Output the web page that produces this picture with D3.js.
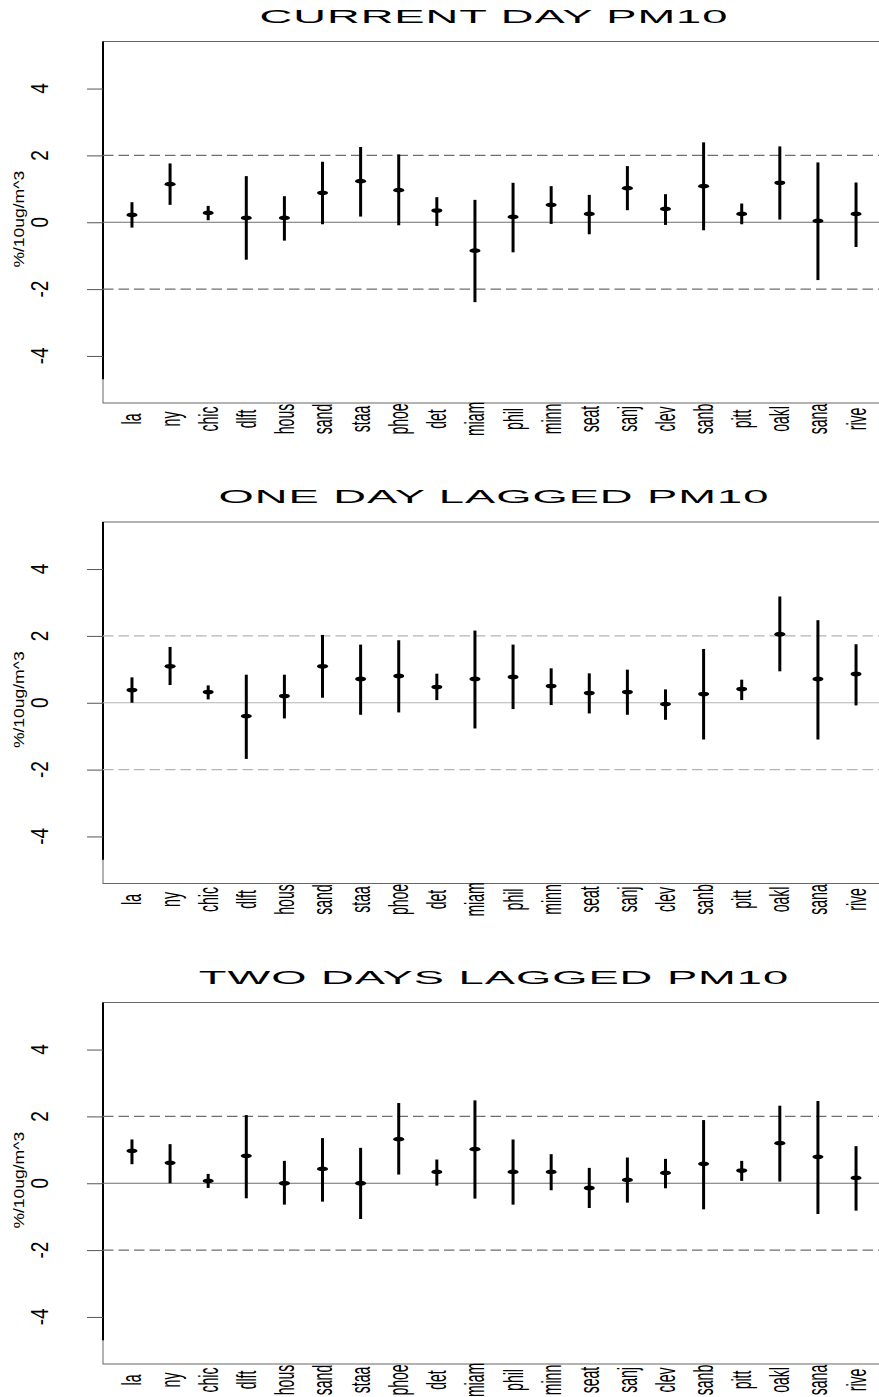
<!DOCTYPE html>
<html>
<head>
<meta charset="utf-8">
<script src="https://cdn.jsdelivr.net/npm/d3@7"></script>
<style>
  html, body { margin: 0; padding: 0; background: #fff; }
  svg { display: block; }
  text { font-family: "Liberation Sans", Arial, Helvetica, sans-serif; fill: #000; }
</style>
</head>
<body>
<svg id="chart" width="879" height="1397"></svg>
<script>
// City codes along the x axis
const cities = ["la","ny","chic","dlft","hous","sand","staa","phoe","det","miam",
                "phil","minn","seat","sanj","clev","sanb","pitt","oakl","sana","rive"];

// Panel titles
const titles = ["CURRENT DAY PM10", "ONE DAY LAGGED PM10", "TWO DAYS LAGGED PM10"];

// Y tick values and the reference lines
const yTicks = [-4, -2, 0, 2, 4];
const refDashed = [-2, 2];
const yLabel = "%/10ug/m^3";

// Estimates (% change per 10 ug/m^3) with lower / upper limits
const lag0Est = [0.22, 1.14, 0.28, 0.13, 0.13, 0.88, 1.23, 0.96, 0.35, -0.85,
                 0.16, 0.52, 0.25, 1.02, 0.40, 1.08, 0.25, 1.18, 0.04, 0.25];
const lag0Lo  = [-0.16, 0.52, 0.06, -1.12, -0.55, -0.06, 0.17, -0.09, -0.11, -2.39,
                 -0.90, -0.05, -0.36, 0.36, -0.08, -0.24, -0.06, 0.08, -1.73, -0.74];
const lag0Hi  = [0.60, 1.76, 0.49, 1.38, 0.78, 1.81, 2.25, 2.03, 0.75, 0.67,
                 1.18, 1.08, 0.82, 1.68, 0.84, 2.39, 0.56, 2.27, 1.79, 1.19];

const lag1Est = [0.38, 1.09, 0.32, -0.40, 0.20, 1.09, 0.71, 0.80, 0.47, 0.71,
                 0.77, 0.50, 0.29, 0.32, -0.04, 0.26, 0.41, 2.05, 0.71, 0.86];
const lag1Lo  = [0.00, 0.53, 0.10, -1.68, -0.47, 0.15, -0.36, -0.29, 0.08, -0.77,
                 -0.19, -0.07, -0.32, -0.36, -0.51, -1.10, 0.08, 0.94, -1.10, -0.08];
const lag1Hi  = [0.76, 1.67, 0.52, 0.84, 0.84, 2.03, 1.74, 1.87, 0.87, 2.16,
                 1.74, 1.03, 0.88, 0.99, 0.40, 1.61, 0.69, 3.18, 2.47, 1.75];

const lag2Est = [0.97, 0.61, 0.07, 0.82, 0.00, 0.43, 0.00, 1.32, 0.34, 1.02,
                 0.34, 0.34, -0.14, 0.10, 0.31, 0.58, 0.38, 1.20, 0.79, 0.16];
const lag2Lo  = [0.57, 0.00, -0.14, -0.45, -0.64, -0.55, -1.07, 0.26, -0.07, -0.46,
                 -0.64, -0.21, -0.74, -0.58, -0.15, -0.78, 0.07, 0.05, -0.92, -0.82];
const lag2Hi  = [1.31, 1.17, 0.28, 2.04, 0.67, 1.35, 1.06, 2.40, 0.71, 2.48,
                 1.31, 0.87, 0.46, 0.77, 0.73, 1.89, 0.67, 2.32, 2.46, 1.11];

const panels = [
  { title: titles[0], est: lag0Est, lo: lag0Lo, hi: lag0Hi, guide: "#6e6e6e" },
  { title: titles[1], est: lag1Est, lo: lag1Lo, hi: lag1Hi, guide: "#b4b4b4" },
  { title: titles[2], est: lag2Est, lo: lag2Lo, hi: lag2Hi, guide: "#6e6e6e" }
];

const svg = d3.select("#chart");
svg.append("rect").attr("width", 879).attr("height", 1397).attr("fill", "#fff");

// Plot frame geometry (shared by all three panels)
const plotLeft = 103, plotRight = 885;
const plotTop = 41.5, plotBottom = 403;
const panelStep = 480.5;
const yLim = 5.2 * 1.04;        // limits padded the way base graphics does
const axisLineLow = -4.7;

const x = d3.scaleLinear()
  .domain([1 - 0.04 * 19, 20 + 0.04 * 19])
  .range([plotLeft, plotRight]);

panels.forEach((p, i) => {
  const off = i * panelStep;
  const g = svg.append("g").attr("transform", `translate(0,${off})`);

  const y = d3.scaleLinear().domain([-yLim, yLim]).range([plotBottom, plotTop]);

  // title
  g.append("text")
    .attr("transform", `translate(${(plotLeft + plotRight) / 2},22.7) scale(2.45,1)`)
    .attr("text-anchor", "middle")
    .style("font-size", "18.5px")
    .style("letter-spacing", "0.4px")
    .text(p.title);

  // frame
  g.append("rect")
    .attr("x", plotLeft).attr("y", plotTop)
    .attr("width", plotRight - plotLeft).attr("height", plotBottom - plotTop)
    .attr("fill", "none").attr("stroke", "#666").attr("stroke-width", 1);

  // left axis line
  g.append("line")
    .attr("x1", plotLeft).attr("x2", plotLeft)
    .attr("y1", y(yLim)).attr("y2", y(axisLineLow))
    .attr("stroke", "#000").attr("stroke-width", 2);

  // y ticks and labels
  const yAxis = d3.axisLeft(y).tickValues(yTicks).tickSize(16).tickFormat(d3.format("d"));
  const ax = g.append("g").attr("transform", `translate(${plotLeft},0)`).call(yAxis);
  ax.select(".domain").remove();
  ax.selectAll(".tick line").attr("stroke", "#555").attr("stroke-width", 1);
  ax.selectAll(".tick text").remove();
  yTicks.forEach(v => {
    g.append("text")
      .attr("transform", `translate(40,${y(v)}) scale(1.3,1) rotate(-90)`)
      .attr("text-anchor", "middle")
      .attr("dominant-baseline", "central")
      .style("font-size", "19px")
      .text(v < 0 ? "-" + Math.abs(v) : String(v));
  });

  // y axis title
  g.append("text")
    .attr("transform", `translate(19.5,${(plotTop + plotBottom) / 2 - 3}) scale(0.82,1) rotate(-90)`)
    .attr("text-anchor", "middle")
    .attr("dominant-baseline", "central")
    .style("font-size", "17.5px")
    .text(yLabel);

  // reference lines
  g.append("line")
    .attr("x1", plotLeft).attr("x2", plotRight)
    .attr("y1", y(0)).attr("y2", y(0))
    .attr("stroke", p.guide).attr("stroke-width", 1.2);
  g.selectAll("line.dash").data(refDashed).enter().append("line")
    .attr("class", "dash")
    .attr("x1", plotLeft).attr("x2", plotRight)
    .attr("y1", d => y(d)).attr("y2", d => y(d))
    .attr("stroke", p.guide).attr("stroke-width", 1.2)
    .attr("stroke-dasharray", "10.5,5");

  // category labels
  cities.forEach((c, k) => {
    g.append("text")
      .attr("transform", `translate(${x(k + 1)},419) scale(2.0,1) rotate(-90)`)
      .attr("text-anchor", "middle")
      .attr("dominant-baseline", "central")
      .style("font-size", "14px")
      .text(c);
  });

  // interval bars
  const rows = cities.map((c, k) => ({ k: k + 1, est: p.est[k], lo: p.lo[k], hi: p.hi[k] }));
  g.selectAll("line.bar").data(rows).enter().append("line")
    .attr("class", "bar")
    .attr("x1", d => x(d.k)).attr("x2", d => x(d.k))
    .attr("y1", d => y(d.lo)).attr("y2", d => y(d.hi))
    .attr("stroke", "#000").attr("stroke-width", 3);

  // point estimates
  g.selectAll("ellipse.pt").data(rows).enter().append("ellipse")
    .attr("class", "pt")
    .attr("cx", d => x(d.k)).attr("cy", d => y(d.est))
    .attr("rx", 5.5).attr("ry", 2.4)
    .attr("fill", "#000");
});
</script>
</body>
</html>
